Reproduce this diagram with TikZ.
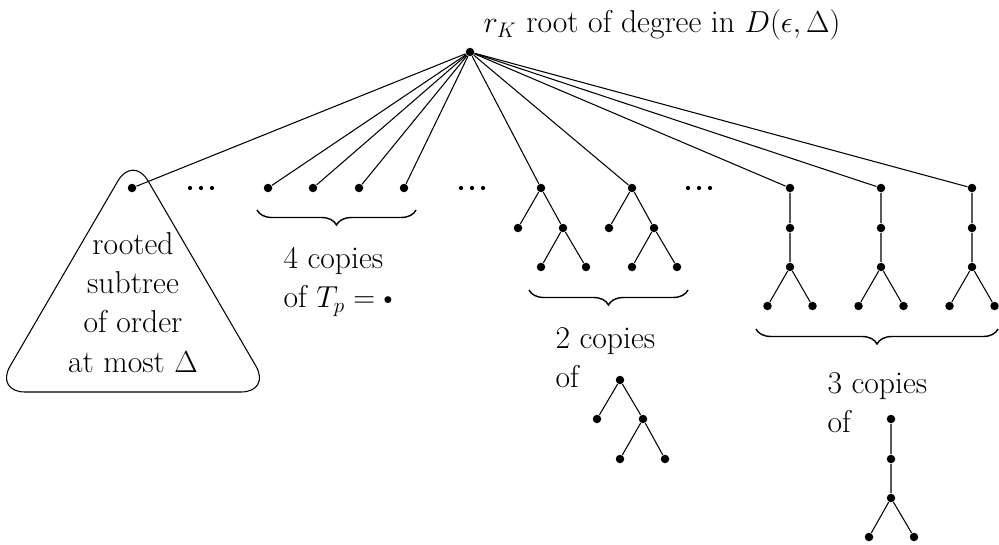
\documentclass[tikz,border=0pt]{standalone}
\usetikzlibrary{decorations.pathreplacing}
\begin{document}
\begin{tikzpicture}[x=0.02cm,y=-0.02cm, line width=0.6pt,
  v/.style={circle,fill,inner sep=0pt,minimum size=0.17cm},
  sd/.style={circle,fill,inner sep=0pt,minimum size=0.085cm},
  txt/.style={font=\fontsize{18}{22.3}\selectfont, inner sep=0pt},
  br/.style={decorate,decoration={brace,mirror,amplitude=0.3cm},line width=0.8pt}]
\useasboundingbox (0,0) rectangle (999,544);
% root and title
\node[v] (r) at (470,52) {};
\node[txt,anchor=base west] (title) at (483,33) {$r_K$ root of degree in $D(\epsilon,\Delta)$};
% triangle subtree
\draw[rounded corners=0.6cm] (133,155) -- (271,392) -- (-5,392) -- cycle;
\node[v] (t0) at (132,188) {};
\node[txt,align=center,anchor=north] (ttext) at (133,232) {rooted\\subtree\\of order\\at most $\Delta$};
% dots groups
\node[sd] (d1a) at (190,188) {};
\node[sd] (d1b) at (201,188) {};
\node[sd] (d1c) at (212,188) {};
\node[sd] (d2a) at (461,188) {};
\node[sd] (d2b) at (472,188) {};
\node[sd] (d2c) at (483,188) {};
\node[sd] (d3a) at (688,188) {};
\node[sd] (d3b) at (699,188) {};
\node[sd] (d3c) at (710,188) {};
% single vertices
\node[v] (p1) at (268,188) {};
\node[v] (p2) at (313,188) {};
\node[v] (p3) at (359,188) {};
\node[v] (p4) at (404,188) {};
% binary trees
\node[v] (a1) at (541,188) {};
\node[v] (a1l) at (518,228) {};
\node[v] (a1r) at (563,228) {};
\node[v] (a1rl) at (541,267) {};
\node[v] (a1rr) at (586,267) {};
\node[v] (a2) at (632,188) {};
\node[v] (a2l) at (609,228) {};
\node[v] (a2r) at (654,228) {};
\node[v] (a2rl) at (632,267) {};
\node[v] (a2rr) at (677,267) {};
\draw (a1) -- (a1l) (a1) -- (a1r) (a1r) -- (a1rl) (a1r) -- (a1rr);
\draw (a2) -- (a2l) (a2) -- (a2r) (a2r) -- (a2rl) (a2r) -- (a2rr);
% path trees
\foreach \n/\x in {1/790,2/881,3/972}{
  \node[v] (b\n) at (\x,188) {};
  \node[v] (b\n m) at (\x,228) {};
  \node[v] (b\n f) at (\x,267) {};
  \node[v] (b\n l) at (\x-22.5,306) {};
  \node[v] (b\n r) at (\x+22.5,306) {};
  \draw (b\n) -- (b\n m) -- (b\n f) (b\n f) -- (b\n l) (b\n f) -- (b\n r);
}
% edges from root
\foreach \t in {t0,p1,p2,p3,p4,a1,a2,b1,b2,b3}{ \draw (r) -- (\t); }
% braces
\coordinate (br1a) at (257,210); \coordinate (br1b) at (416,210);
\draw[br] (br1a) -- (br1b);
\coordinate (br2a) at (529,290); \coordinate (br2b) at (688,290);
\draw[br] (br2a) -- (br2b);
\coordinate (br3a) at (756,329); \coordinate (br3b) at (998,329);
\draw[br] (br3a) -- (br3b);
% labels
\node[txt,align=left,anchor=north west] (l1) at (283,247) {4 copies\\of $T_p=\vcenter{\hbox{\fontsize{10}{10}\selectfont$\bullet$}}$};
\node[txt,align=left,anchor=north west] (l2) at (555,327) {2 copies\\of};
\node[txt,align=left,anchor=north west] (l3) at (827,372) {3 copies\\of};
% small binary tree
\node[v] (s1) at (620,380) {};
\node[v] (s1l) at (597,419) {};
\node[v] (s1r) at (643,419) {};
\node[v] (s1rl) at (620,459) {};
\node[v] (s1rr) at (665,459) {};
\draw (s1) -- (s1l) (s1) -- (s1r) (s1r) -- (s1rl) (s1r) -- (s1rr);
% small path tree
\node[v] (s2) at (891,419) {};
\node[v] (s2m) at (891,459) {};
\node[v] (s2f) at (891,498) {};
\node[v] (s2l) at (869,537) {};
\node[v] (s2r) at (914,537) {};
\draw (s2) -- (s2m) -- (s2f) (s2f) -- (s2l) (s2f) -- (s2r);
\end{tikzpicture}
\end{document}
